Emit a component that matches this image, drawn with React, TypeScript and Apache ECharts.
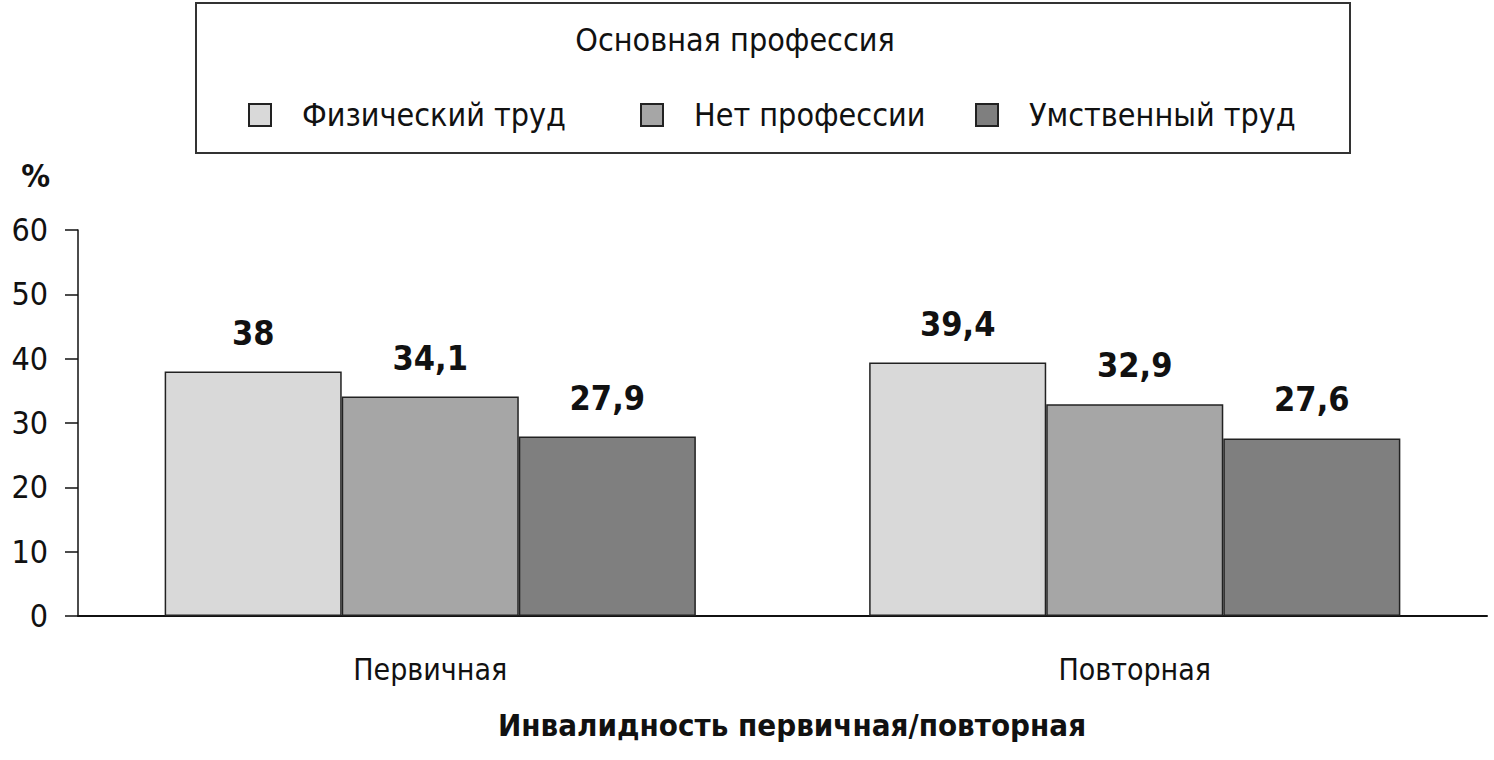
import React, { useEffect, useRef } from "react";
import * as echarts from "echarts";

const categories = ["Первичная", "Повторная"];
const seriesNames = ["Физический труд", "Нет профессии", "Умственный труд"];
const physical = [38, 39.4];
const noProfession = [34.1, 32.9];
const mental = [27.9, 27.6];
const colors = ["#d9d9d9", "#a6a6a6", "#7f7f7f"];
const yTicks = { min: 0, max: 60, interval: 10 };

const FONT = "'Liberation Sans Narrow', 'DejaVu Sans Condensed', 'Roboto', sans-serif";

export default function App() {
  const ref = useRef<HTMLDivElement>(null);
  useEffect(() => {
    document.body.style.margin = "0";
    const chart = echarts.init(ref.current!, null, { renderer: "svg" });
    const values = [physical, noProfession, mental];
    const legendX = [248, 640, 975];
    chart.setOption({
      animation: false,
      backgroundColor: "#ffffff",
      textStyle: { fontFamily: FONT },
      title: [
        {
          text: "Основная профессия",
          left: 735,
          top: 24,
          padding: 0,
          textAlign: "center",
          textStyle: { fontFamily: FONT, fontSize: 32, fontWeight: "normal", color: "#111" },
        },
        {
          text: "Инвалидность первичная/повторная",
          left: 792,
          top: 709,
          padding: 0,
          textAlign: "center",
          textStyle: { fontFamily: FONT, fontSize: 31, fontWeight: "bold", color: "#111" },
        },
      ],
      graphic: [
        {
          type: "rect",
          shape: { x: 196, y: 3, width: 1154, height: 150 },
          style: { fill: "none", stroke: "#333", lineWidth: 2 },
        },
      ],
      legend: seriesNames.map((n, i) => ({
        data: [n],
        left: legendX[i],
        top: 99,
        padding: 0,
        itemWidth: 22,
        itemHeight: 22,
        icon: "rect",
        textStyle: { fontFamily: FONT, fontSize: 32, color: "#111", padding: [0, 0, 0, 26] },
        selectedMode: false,
      })),
      grid: { left: 78, right: 7, top: 230, bottom: 144 },
      xAxis: {
        type: "category",
        data: categories,
        axisLine: { show: true, lineStyle: { color: "#111", width: 2 } },
        axisTick: { show: false },
        axisLabel: { fontFamily: FONT, fontSize: 30, color: "#111", margin: 38 },
      },
      yAxis: {
        type: "value",
        min: yTicks.min,
        max: yTicks.max,
        interval: yTicks.interval,
        name: "%",
        nameLocation: "end",
        nameGap: 38,
        nameTextStyle: { fontFamily: FONT, fontSize: 32, fontWeight: "bold", color: "#111", align: "right", padding: [0, 28, 0, 0] },
        splitLine: { show: false },
        axisLine: { show: true, lineStyle: { color: "#111", width: 1.5 } },
        axisTick: { show: true, length: 13, lineStyle: { color: "#111", width: 1.5 } },
        axisLabel: { fontFamily: FONT, fontSize: 32, color: "#111", margin: 30 },
      },
      series: seriesNames.map((n, i) => ({
        name: n,
        type: "bar",
        data: values[i],
        barGap: "0%",
        barCategoryGap: "24.6%",
        itemStyle: { color: colors[i], borderColor: "#222", borderWidth: 1.5 },
        label: {
          show: true,
          position: "top",
          distance: 22,
          fontFamily: FONT,
          fontSize: 34,
          fontWeight: "bold",
          color: "#111",
          formatter: (p: any) => String(p.value).replace(".", ","),
        },
      })),
    });
    return () => chart.dispose();
  }, []);
  return <div ref={ref} style={{ position: "absolute", left: 0, top: 0, width: 1494, height: 760 }} />;
}
